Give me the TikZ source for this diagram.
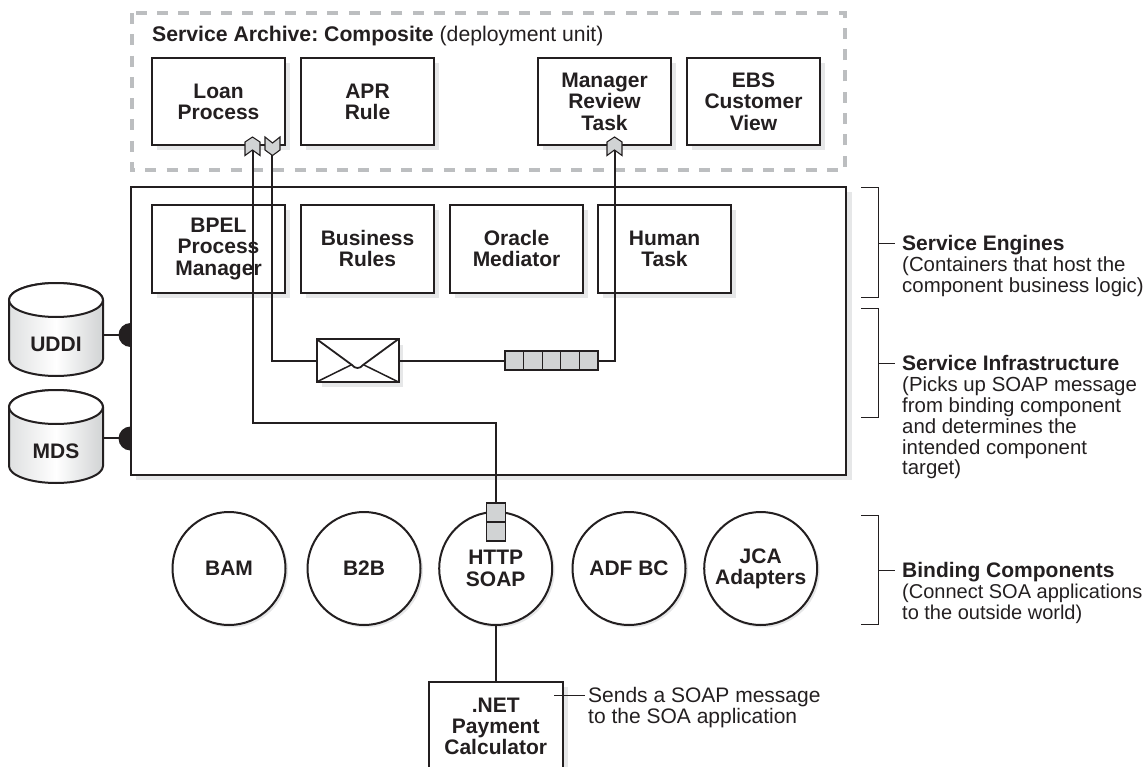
\documentclass[tikz,border=0pt]{standalone}
\usepackage{fontspec}
\setmainfont{Liberation Sans}
\frenchspacing
\definecolor{shad}{HTML}{E6E7E8}
\definecolor{chev}{HTML}{D1D3D4}
\definecolor{ink}{HTML}{231F20}
\definecolor{dashc}{HTML}{BCBEC0}
\newcommand{\bfsz}{\fontsize{21}{21.3}\selectfont\bfseries}
\newcommand{\lbsz}{\fontsize{20.4}{20.8}\selectfont}
\tikzset{
 box/.style={draw=ink,line width=2pt,fill=white,outer sep=0pt,minimum width=133pt,minimum height=87.5pt,align=center,font=\bfsz,text=ink,anchor=north west,inner sep=0pt},
 circ/.style={circle,draw=ink,line width=2pt,fill=white,outer sep=0pt,minimum size=113pt,inner sep=0pt},
 circlabel/.style={align=center,font=\bfsz,text=ink,inner sep=0pt},
 conn/.style={draw=ink,line width=2pt},
 thin line/.style={draw=ink,line width=1pt},
 lab/.style={align=left,anchor=north west,inner sep=0pt,font=\lbsz,text=ink},
 sh/.style={fill=shad,draw=none},
 cell/.style={draw=ink,line width=1.2pt,fill=chev,outer sep=0pt,minimum width=18.6pt,minimum height=19pt,inner sep=0pt,anchor=north west},
 chevron/.style={draw=ink,line width=1.1pt,fill=chev,line join=miter},
 dbl/.style={font=\bfsz,text=ink,inner sep=0pt}
}
\newcommand{\shbox}[4]{% name, x, y, text
 \fill[sh] (#2+5,#3+5) rectangle ++(133,87.5);
 \node[box] (#1) at (#2,#3) {#4};}
\newcommand{\cyl}[3]{% name, top y, label
 \path[left color=chev!70!white,right color=chev,middle color=white,draw=ink,line width=2pt]
  (9,#2+17) -- (9,#2+76) arc[start angle=180,end angle=0,x radius=47,y radius=17] -- (103,#2+17)
  arc[start angle=0,end angle=-180,x radius=47,y radius=17] -- cycle;
 \draw[ink,line width=2pt,fill=white] (56,#2+17) ellipse[x radius=47,y radius=17];
 \node[dbl] (#1) at (56,#2+61) {#3};}
\begin{document}
\begin{tikzpicture}[x=1pt,y=-1pt]
\useasboundingbox (0,0) rectangle (1147,767);
% composite
\draw[dashc,line width=3.8pt,dash pattern=on 11pt off 10.3pt] (132,13) rectangle (845,170);
\node[anchor=west,inner sep=0pt,text=ink,font=\fontsize{21.2}{21}\selectfont] (title) at (152,36.5) {\textbf{Service Archive: Composite} (deployment unit)};
\shbox{loan}{152}{58}{Loan\\Process}
\shbox{apr}{301}{58}{APR\\Rule}
\shbox{mgr}{538}{58}{Manager\\Review\\Task}
\shbox{ebs}{687}{58}{EBS\\Customer\\View}
% infrastructure
\fill[sh] (136,192) rectangle (852,480);
\node[box,minimum width=715.5pt,minimum height=288pt] (infra) at (130.5,187) {};
\shbox{bpel}{152}{205}{BPEL\\Process\\Manager}
\shbox{rules}{301}{205}{Business\\Rules}
\shbox{med}{450}{205}{Oracle\\Mediator}
\shbox{human}{598}{205}{Human\\Task}
% databases
\fill[ink] (130.5,323) arc[start angle=270,end angle=90,radius=12] -- cycle;
\fill[ink] (130.5,426.5) arc[start angle=270,end angle=90,radius=12] -- cycle;
\cyl{uddi}{283}{UDDI}
\cyl{mds}{390}{MDS}
\coordinate (ua) at (130.5,334.5); \coordinate (ma) at (130.5,438);
\draw[conn] (103,334.5) -- (ua);
\draw[conn] (103,438) -- (ma);
% envelope & queue
\fill[sh] (322,345) rectangle (403,387);
\node[draw=ink,line width=2pt,fill=white,outer sep=0pt,minimum width=82pt,minimum height=43pt,inner sep=0pt,anchor=north west] (env) at (316.5,339) {};
\draw[ink,line width=1.8pt,line join=round] (env.north west) -- (352,365) .. controls (355,369) and (360,369) .. (363,365) -- (env.north east);
\draw[ink,line width=1.5pt] (env.south west) -- (351,365);
\draw[ink,line width=1.5pt] (env.south east) -- (364,365);
\foreach \i [count=\n from 0] in {1,...,5}{ \node[cell] (q\i) at (505+\n*18.6,351) {}; }
\coordinate (h1) at (272,360.5);
\draw[conn] (272,150) -- (h1) -- (env.west);
\draw[conn] (env.east) -- (q1.west);
\coordinate (h2) at (614.5,360.5);
\draw[conn] (q5.east) -- (h2) -- (614.5,150);
\coordinate (h3) at (252.5,423); \coordinate (h4) at (496,423);
\draw[conn] (252.5,150) -- (h3) -- (h4) -- (496,505);
% chevrons
\path[chevron] (245,142) -- (252.5,137) -- (260,142) -- (260,155.5) -- (252.5,150) -- (245,155.5) -- cycle;
\path[chevron] (265,137) -- (272.5,143) -- (280,137) -- (280,150) -- (272.5,155.5) -- (265,150) -- cycle;
\path[chevron] (607,142) -- (614.5,137) -- (622,142) -- (622,155.5) -- (614.5,150) -- (607,155.5) -- cycle;
% binding
\foreach \cx in {229,364,495.7,629,760.7}{ \fill[sh] (\cx+2,570.5) circle[radius=57]; }
\node[circ] (bam) at (229,568.5) {};
\node[circ] (b2b) at (364,568.5) {};
\node[circ] (http) at (495.7,568.5) {};
\node[circ] (adf) at (629,568.5) {};
\node[circ] (jca) at (760.7,568.5) {};
\node[circlabel] (tbam) at (bam) {BAM};
\node[circlabel] (tb2b) at (b2b) {B2B};
\node[circlabel] (thttp) at (http) {HTTP\\SOAP};
\node[circlabel] (tadf) at (adf) {ADF BC};
\node[circlabel] (tjca) at (jca) {JCA\\Adapters};
\node[draw=ink,line width=1.2pt,fill=chev,minimum width=19pt,minimum height=19pt,inner sep=0pt,outer sep=0pt] (pa) at (496,512.5) {};
\node[draw=ink,line width=1.2pt,fill=chev,minimum width=19pt,minimum height=19pt,inner sep=0pt,outer sep=0pt] (pb) at (496,531.5) {};
% .NET
\fill[sh] (434,687) rectangle (568,767);
\node[box,minimum width=133.5pt,minimum height=89pt] (net) at (429,682) {.NET\\Payment\\Calculator};
\draw[conn] (http) ++(0,56.5) -- (net.north -| http);
\coordinate (nl) at (585,695);
\draw[thin line] (554,695) -- (nl);
\node[lab,font=\fontsize{21}{20.8}\selectfont] (sends) at (588,687.5) {Sends a SOAP message\\to the SOA application};
% brackets
\draw[thin line] (861,188) -- (878,188) -- (878,297) -- (861,297);
\draw[thin line] (878,243) -- (895,243);
\node[lab] (se) at (902,235.5) {{\bfseries\fontsize{21}{20.8}\selectfont Service Engines}\\(Containers that host the\\component business logic)};
\draw[thin line] (861,308) -- (878,308) -- (878,417) -- (861,417);
\draw[thin line] (878,363) -- (895,363);
\node[lab] (si) at (902,355.5) {{\bfseries\fontsize{21}{20.8}\selectfont Service Infrastructure}\\(Picks up SOAP message\\from binding component\\and determines the\\intended component\\target)};
\draw[thin line] (861,515) -- (878,515) -- (878,624) -- (861,624);
\draw[thin line] (878,570) -- (895,570);
\node[lab,font=\fontsize{20}{20.8}\selectfont] (bc) at (902,562.5) {{\bfseries\fontsize{21}{20.8}\selectfont Binding Components}\\(Connect SOA applications\\to the outside world)};
\end{tikzpicture}
\end{document}
